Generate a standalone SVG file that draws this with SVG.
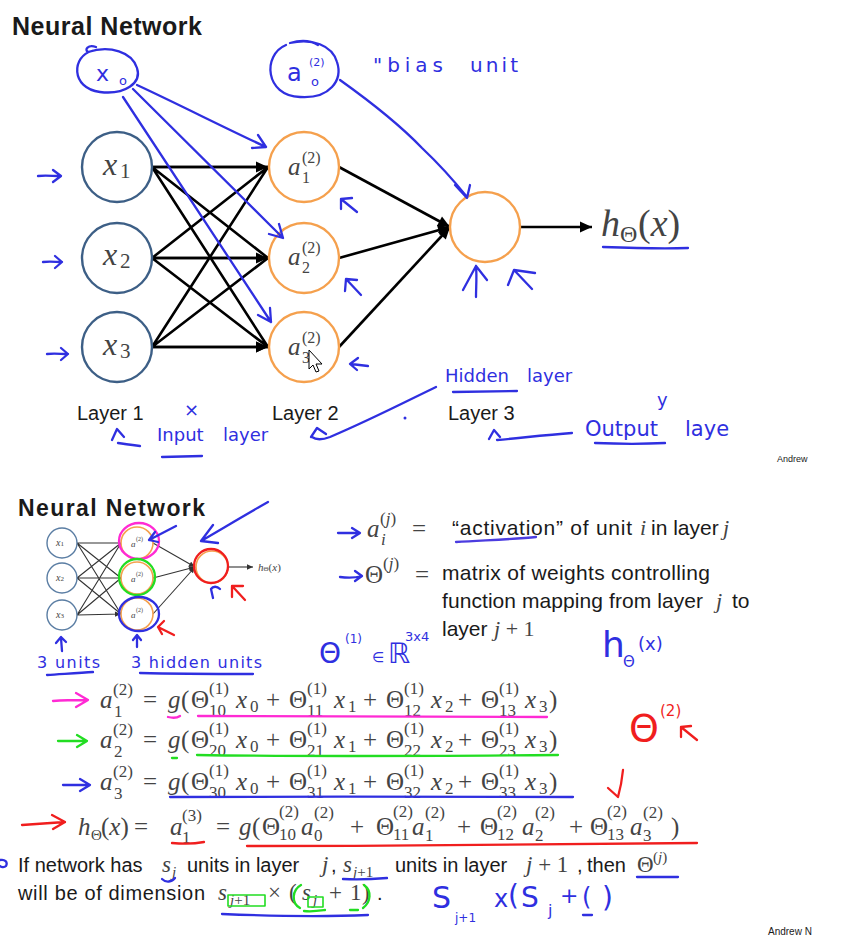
<svg xmlns="http://www.w3.org/2000/svg" width="852" height="943" viewBox="0 0 852 943">
<style>
.t{font-family:"Liberation Sans",Arial,sans-serif;fill:#1a1a1a}
.m{font-family:"Liberation Serif","Times New Roman",serif;fill:#444}
.i{font-style:italic}
.e{font-size:25px}
.s{font-size:17px}
.hw{font-family:"DejaVu Sans",sans-serif;fill:#2f2fe0}
.pen{fill:none;stroke-linecap:round;stroke-linejoin:round;stroke-width:2.3}
.b{stroke:#2f2fe0}.r{stroke:#f01e1e}.g{stroke:#22dd22}.p{stroke:#ff2ad4}
.blk{stroke:#000;stroke-width:2.6;fill:none}
.sm{stroke:#333;stroke-width:1.1;fill:none}
.in{fill:#fff;stroke:#3d5f86;stroke-width:2.4}
.hid{fill:#fff;stroke:#f5a04d;stroke-width:2.4}
</style>
<defs>
<marker id="ah" viewBox="0 0 10 10" refX="10" refY="5" markerWidth="14" markerHeight="12" markerUnits="userSpaceOnUse" orient="auto"><path d="M0,0.5 L10,5 L0,9.5 z" fill="#000"/></marker>
<marker id="as" viewBox="0 0 10 10" refX="10" refY="5" markerWidth="7" markerHeight="6" markerUnits="userSpaceOnUse" orient="auto"><path d="M0,0.5 L10,5 L0,9.5 z" fill="#333"/></marker>
</defs>
<rect width="852" height="943" fill="#fff"/>

<!-- ===== TOP SLIDE ===== -->
<text class="t" x="12" y="35" font-size="25" font-weight="bold" textLength="190">Neural Network</text>

<g id="connectors">
<path class="blk" marker-end="url(#ah)" d="M152 167 L268 167 M152 167 L268 258 M152 167 L268 347 M152 258 L268 167 M152 258 L268 258 M152 258 L268 347 M152 347 L268 167 M152 347 L268 258 M152 347 L268 347"/>
<path class="blk" marker-end="url(#ah)" d="M339 167 L450 227"/>
<path class="blk" marker-end="url(#ah)" d="M339 258 L450 227"/>
<path class="blk" marker-end="url(#ah)" d="M339 347 L450 227"/>
<path class="blk" marker-end="url(#ah)" d="M520 227 L592 227"/>
<path class="blk" marker-end="url(#ah)" d="M152 167 L268 167"/>
<path class="blk" marker-end="url(#ah)" d="M152 258 L268 258"/>
<path class="blk" marker-end="url(#ah)" d="M152 347 L268 347"/>
</g>

<g id="x1"><circle class="in" cx="117" cy="167" r="35"/><text class="m i" x="103" y="175" font-size="32">x</text><text class="m" x="120" y="178" font-size="21">1</text></g>
<g id="x2"><circle class="in" cx="117" cy="258" r="35"/><text class="m i" x="103" y="265" font-size="32">x</text><text class="m" x="120" y="268" font-size="21">2</text></g>
<g id="x3"><circle class="in" cx="117" cy="347" r="35"/><text class="m i" x="103" y="355" font-size="32">x</text><text class="m" x="120" y="358" font-size="21">3</text></g>
<g id="a1"><circle class="hid" cx="304" cy="167" r="35"/><text class="m i" x="288" y="175" font-size="25">a</text><text class="m" x="302" y="163" font-size="16">(2)</text><text class="m" x="302" y="183" font-size="16">1</text></g>
<g id="a2"><circle class="hid" cx="304" cy="258" r="35"/><text class="m i" x="288" y="265" font-size="25">a</text><text class="m" x="302" y="253" font-size="16">(2)</text><text class="m" x="302" y="273" font-size="16">2</text></g>
<g id="a3"><circle class="hid" cx="304" cy="347" r="35"/><text class="m i" x="288" y="355" font-size="25">a</text><text class="m" x="302" y="343" font-size="16">(2)</text><text class="m" x="302" y="363" font-size="16">3</text></g>
<g id="out"><circle class="hid" cx="485" cy="227" r="35"/></g>
<g id="hx"><text class="m i" x="601" y="236" font-size="38">h</text><text class="m" x="620" y="242" font-size="24">Θ</text><text class="m" x="638" y="236" font-size="38">(<tspan font-style="italic">x</tspan>)</text></g>

<g id="layers">
<text class="t" x="77" y="420" font-size="20" fill="#2a2a2a">Layer 1</text>
<text class="t" x="272" y="420" font-size="20" fill="#2a2a2a">Layer 2</text>
<text class="t" x="448" y="420" font-size="20" fill="#2a2a2a">Layer 3</text>
</g>

<!-- cursor -->
<path d="M309 350 L309 369 L313 365 L316 372 L319 371 L316 364 L322 364 Z" fill="#fff" stroke="#000" stroke-width="1"/>

<!-- top handwriting -->
<g id="bias-x0">
<path class="pen b" d="M92 51 C 72 56 70 88 100 92 C 125 95 142 83 137 68 C 132 52 110 45 88 52 C 84 50 88 44 96 47"/>
<text class="hw" x="96" y="81" font-size="22">x</text><text class="hw" x="119" y="85" font-size="13">o</text>
</g>
<g id="bias-a0">
<path class="pen b" d="M286 45 C 262 55 265 96 300 97 C 330 99 343 80 337 62 C 332 45 312 38 290 43 C 300 40 310 40 318 45"/>
<text class="hw" x="287" y="81" font-size="24">a</text><text class="hw" x="309" y="66" font-size="11">(2)</text><text class="hw" x="311" y="86" font-size="13">o</text>
</g>
<text class="hw" x="373" y="72" font-size="20" textLength="70">"bias</text>
<text class="hw" x="470" y="72" font-size="20" textLength="48">unit</text>

<g class="pen b">
<path d="M137 85 C 180 105 225 128 266 147 M258 135 L266 147 L252 148"/>
<path d="M133 89 L283 238 M269 234 L283 238 L279 224"/>
<path d="M123 97 L271 322 M258 315 L271 322 L270 308"/>
<path d="M340 80 C 375 105 400 125 422 148 C 440 165 455 182 467 197 M455 185 L467 198 L470 185"/>
<path d="M38 176 C 45 175 53 176 60 176 M53 170 L61 176 L53 182"/>
<path d="M43 262 C 50 261 56 262 62 262 M55 256 L62 262 L55 268"/>
<path d="M47 354 C 54 353 61 354 68 354 M61 348 L68 354 L61 360"/>
<path d="M357 212 L341 199 M341 209 L341 199 L352 198"/>
<path d="M361 295 L346 279 M345 291 L346 279 L357 280"/>
<path d="M368 366 L351 364 M358 358 L350 364 L357 370"/>
<path d="M476 297 C 476 287 477 277 476 266 M463 290 L476 266 L487 280"/>
<path d="M532 289 L514 270 M508 285 L514 270 L535 273"/>
<path d="M603 247 C 630 248 660 249 688 248"/>
<path d="M140 446 C 132 445 124 444 118 443 M112 440 L117 429 L124 437"/>
<path d="M162 457 L202 456"/>
<path d="M436 387 C 405 402 370 420 330 437 C 322 440 316 440 312 437 M311 437 L317 428 L326 434"/>
<path d="M453 392 L517 391"/>
<path d="M572 433 C 545 435 520 438 497 440 M489 439 L494 430 L500 437"/>
<path d="M595 443 C 620 444 645 444 665 443"/>
</g>
<circle cx="405" cy="418" r="1.5" fill="#2f2fe0"/>
<text class="hw" x="184" y="416" font-size="18">×</text>
<text class="hw" x="157" y="441" font-size="18">Input</text>
<text class="hw" x="223" y="441" font-size="18">layer</text>
<text class="hw" x="445" y="382" font-size="18">Hidden</text>
<text class="hw" x="527" y="382" font-size="18">layer</text>
<text class="hw" x="585" y="436" font-size="21">Output</text>
<text class="hw" x="685" y="436" font-size="21">laye</text>
<text class="hw" x="657" y="406" font-size="18">y</text>
<text class="t" x="777" y="462" font-size="9" fill="#555">Andrew</text>

<!-- ===== BOTTOM SLIDE ===== -->
<text class="t" x="18" y="516" font-size="23" font-weight="bold" textLength="187">Neural Network</text>

<g id="small-connectors">
<path class="sm" marker-end="url(#as)" d="M77 543 L121 543 M77 543 L121 578 M77 543 L121 614 M77 578 L121 543 M77 578 L121 578 M77 578 L121 614 M77 615 L121 543 M77 615 L121 578 M77 615 L121 614"/>
<path class="sm" marker-end="url(#as)" d="M153 543 L195 567"/>
<path class="sm" marker-end="url(#as)" d="M153 578 L195 567"/>
<path class="sm" marker-end="url(#as)" d="M153 614 L195 567"/>
<path class="sm" marker-end="url(#as)" d="M228 567 L253 567"/>
</g>
<g id="sx1"><circle cx="62" cy="543" r="15" fill="#fff" stroke="#5a7da3" stroke-width="1.4"/><text class="m i" x="56" y="546" font-size="10" fill="#888">x<tspan font-size="7" font-style="normal">1</tspan></text></g>
<g id="sx2"><circle cx="62" cy="578" r="15" fill="#fff" stroke="#5a7da3" stroke-width="1.4"/><text class="m i" x="56" y="581" font-size="10" fill="#888">x<tspan font-size="7" font-style="normal">2</tspan></text></g>
<g id="sx3"><circle cx="62" cy="615" r="15" fill="#fff" stroke="#5a7da3" stroke-width="1.4"/><text class="m i" x="56" y="618" font-size="10" fill="#888">x<tspan font-size="7" font-style="normal">3</tspan></text></g>
<g id="sa1"><circle cx="137" cy="543" r="16" fill="#fff" stroke="#f5a04d" stroke-width="1.6"/><text class="m i" x="131" y="547" font-size="9" fill="#888">a</text><text class="m" x="136" y="541" font-size="6" fill="#888">(2)</text><ellipse class="pen p" cx="139" cy="541" rx="20" ry="18" stroke-width="2.6"/></g>
<g id="sa2"><circle cx="137" cy="578" r="16" fill="#fff" stroke="#f5a04d" stroke-width="1.6"/><text class="m i" x="131" y="582" font-size="9" fill="#888">a</text><text class="m" x="136" y="576" font-size="6" fill="#888">(2)</text><ellipse class="pen g" cx="137" cy="577" rx="18" ry="18" stroke-width="2.6"/></g>
<g id="sa3"><circle cx="137" cy="614" r="16" fill="#fff" stroke="#f5a04d" stroke-width="1.6"/><text class="m i" x="131" y="618" font-size="9" fill="#888">a</text><text class="m" x="136" y="612" font-size="6" fill="#888">(2)</text><ellipse class="pen b" cx="139" cy="614" rx="20" ry="17" stroke-width="2.6"/></g>
<g id="sout"><circle cx="212" cy="567" r="16" fill="#fff" stroke="#f5a04d" stroke-width="1.6"/><circle class="pen r" cx="211" cy="566" r="17" stroke-width="2.8"/></g>
<text class="m" x="258" y="571" font-size="11" fill="#777"><tspan font-style="italic">h</tspan><tspan font-size="7">Θ</tspan>(<tspan font-style="italic">x</tspan>)</text>

<g class="pen">
<path class="b" d="M268 502 C 245 515 220 530 201 541 M213 525 L201 541 L218 543"/>
<path class="b" d="M176 526 L149 540 M155 532 L149 540 L158 542"/>
<path class="b" d="M213 598 L211 589 C 213 586 217 586 220 589"/>
<path class="r" d="M245 600 L233 587 M232 597 L232 586 L243 586"/>
<path class="r" d="M174 635 L158 627 M164 621 L158 627 L162 634"/>
<path class="b" d="M62 651 L61 638 M56 643 L61 637 L66 642"/>
<path class="b" d="M137 647 L137 636 M133 640 L137 635 L141 640"/>
<path class="b" d="M47 675 C 62 674 80 673 93 672"/>
<path class="b" d="M140 673 C 180 674 220 674 253 674"/>
</g>
<text class="hw" x="37" y="668" font-size="16" textLength="63">3 units</text>
<text class="hw" x="131" y="668" font-size="16" textLength="131">3 hidden units</text>

<!-- definitions -->
<g class="pen b">
<path d="M338 533 L359 533 M352 528 L360 533 L352 538"/>
<path d="M340 577 C 348 578 355 578 362 576 M355 571 L362 576 L355 581"/>
<path d="M456 542 C 490 540 518 539 536 537" stroke="#4b3ce0"/>
</g>
<text class="m i e" x="367" y="537">a</text><text class="m s" x="380" y="524">(<tspan font-style="italic">j</tspan>)</text><text class="m i s" x="381" y="545">i</text>
<text class="m e" x="412" y="537">=</text>
<text class="t" x="452" y="535" font-size="21" textLength="180">“activation” of unit</text>
<text class="m i" x="640" y="535" font-size="22">i</text>
<text class="t" x="651" y="535" font-size="21">in layer</text>
<text class="m i" x="723" y="535" font-size="22">j</text>
<text class="m e" x="365" y="583">Θ</text><text class="m s" x="383" y="569">(<tspan font-style="italic">j</tspan>)</text>
<text class="m e" x="415" y="583">=</text>
<text class="t" x="442" y="580" font-size="21" textLength="268">matrix of weights controlling</text>
<text class="t" x="442" y="608" font-size="21" textLength="261">function mapping from layer</text>
<text class="m i" x="716" y="608" font-size="22">j</text>
<text class="t" x="732" y="608" font-size="21">to</text>
<text class="t" x="442" y="636" font-size="21">layer</text>
<text class="m" x="494" y="636" font-size="22"><tspan font-style="italic">j</tspan> + 1</text>

<text class="hw" x="319" y="663" font-size="28">Θ</text>
<text class="hw" x="345" y="643" font-size="12">(1)</text>
<text class="hw" x="372" y="662" font-size="14">∈</text>
<text class="hw" x="388" y="663" font-size="28">ℝ</text>
<text class="hw" x="405" y="641" font-size="13">3x4</text>
<text class="hw" x="602" y="657" font-size="36">h</text>
<text class="hw" x="623" y="667" font-size="15">Θ</text>
<text class="hw" x="638" y="650" font-size="18">(x)</text>

<!-- equations -->
<g id="eq1">
<text class="m i e" x="100" y="708">a</text><text class="m s" x="113" y="695">(2)</text><text class="m s" x="114" y="717">1</text>
<text class="m e" x="143" y="708">=</text><text class="m i e" x="168" y="708">g</text><text class="m e" x="181" y="708">(</text>
<text class="m e" x="191" y="708">Θ</text><text class="m s" x="209" y="694">(1)</text><text class="m s" x="209" y="716">10</text><text class="m i e" x="236" y="708">x</text><text class="m s" x="250" y="712">0</text><text class="m e" x="266" y="708">+</text>
<text class="m e" x="289" y="708">Θ</text><text class="m s" x="307" y="694">(1)</text><text class="m s" x="307" y="716">11</text><text class="m i e" x="334" y="708">x</text><text class="m s" x="348" y="712">1</text><text class="m e" x="363" y="708">+</text>
<text class="m e" x="386" y="708">Θ</text><text class="m s" x="404" y="694">(1)</text><text class="m s" x="404" y="716">12</text><text class="m i e" x="431" y="708">x</text><text class="m s" x="445" y="712">2</text><text class="m e" x="458" y="708">+</text>
<text class="m e" x="481" y="708">Θ</text><text class="m s" x="499" y="694">(1)</text><text class="m s" x="499" y="716">13</text><text class="m i e" x="525" y="708">x</text><text class="m s" x="539" y="712">3</text><text class="m e" x="549" y="708">)</text>
</g>
<g id="eq2">
<text class="m i e" x="100" y="748">a</text><text class="m s" x="113" y="735">(2)</text><text class="m s" x="114" y="757">2</text>
<text class="m e" x="143" y="748">=</text><text class="m i e" x="168" y="748">g</text><text class="m e" x="181" y="748">(</text>
<text class="m e" x="191" y="748">Θ</text><text class="m s" x="209" y="734">(1)</text><text class="m s" x="209" y="756">20</text><text class="m i e" x="236" y="748">x</text><text class="m s" x="250" y="752">0</text><text class="m e" x="266" y="748">+</text>
<text class="m e" x="289" y="748">Θ</text><text class="m s" x="307" y="734">(1)</text><text class="m s" x="307" y="756">21</text><text class="m i e" x="334" y="748">x</text><text class="m s" x="348" y="752">1</text><text class="m e" x="363" y="748">+</text>
<text class="m e" x="386" y="748">Θ</text><text class="m s" x="404" y="734">(1)</text><text class="m s" x="404" y="756">22</text><text class="m i e" x="431" y="748">x</text><text class="m s" x="445" y="752">2</text><text class="m e" x="458" y="748">+</text>
<text class="m e" x="481" y="748">Θ</text><text class="m s" x="499" y="734">(1)</text><text class="m s" x="499" y="756">23</text><text class="m i e" x="525" y="748">x</text><text class="m s" x="539" y="752">3</text><text class="m e" x="549" y="748">)</text>
</g>
<g id="eq3">
<text class="m i e" x="100" y="790">a</text><text class="m s" x="113" y="777">(2)</text><text class="m s" x="114" y="799">3</text>
<text class="m e" x="143" y="790">=</text><text class="m i e" x="168" y="790">g</text><text class="m e" x="181" y="790">(</text>
<text class="m e" x="191" y="790">Θ</text><text class="m s" x="209" y="776">(1)</text><text class="m s" x="209" y="798">30</text><text class="m i e" x="236" y="790">x</text><text class="m s" x="250" y="794">0</text><text class="m e" x="266" y="790">+</text>
<text class="m e" x="289" y="790">Θ</text><text class="m s" x="307" y="776">(1)</text><text class="m s" x="307" y="798">31</text><text class="m i e" x="334" y="790">x</text><text class="m s" x="348" y="794">1</text><text class="m e" x="363" y="790">+</text>
<text class="m e" x="386" y="790">Θ</text><text class="m s" x="404" y="776">(1)</text><text class="m s" x="404" y="798">32</text><text class="m i e" x="431" y="790">x</text><text class="m s" x="445" y="794">2</text><text class="m e" x="458" y="790">+</text>
<text class="m e" x="481" y="790">Θ</text><text class="m s" x="499" y="776">(1)</text><text class="m s" x="499" y="798">33</text><text class="m i e" x="525" y="790">x</text><text class="m s" x="539" y="794">3</text><text class="m e" x="549" y="790">)</text>
</g>
<g id="eq4">
<text class="m i e" x="78" y="835">h</text><text class="m" x="91" y="840" font-size="15">Θ</text><text class="m e" x="101" y="835">(<tspan font-style="italic">x</tspan>)</text>
<text class="m e" x="134" y="835">=</text>
<text class="m i e" x="170" y="835">a</text><text class="m s" x="182" y="821">(3)</text><text class="m s" x="182" y="843">1</text>
<text class="m e" x="216" y="835">=</text><text class="m i e" x="239" y="835">g</text><text class="m e" x="252" y="835">(</text>
<text class="m e" x="262" y="835">Θ</text><text class="m s" x="279" y="817">(2)</text><text class="m s" x="279" y="840">10</text><text class="m i e" x="301" y="835">a</text><text class="m s" x="314" y="818">(2)</text><text class="m s" x="314" y="841">0</text><text class="m e" x="350" y="835">+</text>
<text class="m e" x="376" y="835">Θ</text><text class="m s" x="393" y="817">(2)</text><text class="m s" x="393" y="840">11</text><text class="m i e" x="412" y="835">a</text><text class="m s" x="425" y="818">(2)</text><text class="m s" x="425" y="841">1</text><text class="m e" x="457" y="835">+</text>
<text class="m e" x="480" y="835">Θ</text><text class="m s" x="497" y="817">(2)</text><text class="m s" x="497" y="840">12</text><text class="m i e" x="522" y="835">a</text><text class="m s" x="535" y="818">(2)</text><text class="m s" x="535" y="841">2</text><text class="m e" x="569" y="835">+</text>
<text class="m e" x="590" y="835">Θ</text><text class="m s" x="607" y="817">(2)</text><text class="m s" x="607" y="840">13</text><text class="m i e" x="630" y="835">a</text><text class="m s" x="643" y="818">(2)</text><text class="m s" x="643" y="841">3</text><text class="m e" x="671" y="835">)</text>
</g>

<g class="pen">
<path class="p" d="M53 701 C 65 700 78 700 88 700 M76 693 L88 700 L76 707"/>
<path class="p" d="M168 717 C 172 718 177 718 180 716"/>
<path class="p" d="M198 716 C 320 717 440 717 547 717"/>
<path class="g" d="M58 741 L87 741 M77 735 L87 741 L77 747"/>
<path class="g" d="M172 758 L177 758"/>
<path class="g" d="M197 755 C 320 757 440 756 558 755"/>
<path class="b" d="M63 785 L90 785 M80 779 L90 785 L80 791"/>
<path class="b" d="M170 797 C 300 796 450 797 573 797"/>
<path class="r" d="M22 825 L65 822 M52 815 L65 822 L53 829"/>
<path class="r" d="M172 843 C 182 844 194 844 204 842"/>
<path class="r" d="M247 846 C 400 846 560 845 697 843"/>
<path class="r" d="M697 740 L681 727 M681 737 L681 727 L691 726"/>
<path class="r" d="M623 770 C 622 780 620 790 618 797 M608 788 L618 797"/>
</g>
<text x="629" y="741" font-size="38" fill="#f01e1e" font-family="DejaVu Sans,sans-serif">Θ</text>
<text x="660" y="716" font-size="15" fill="#f01e1e" font-family="DejaVu Sans,sans-serif">(2)</text>

<!-- dimension statement -->
<text class="t" x="18" y="872" font-size="20">If network has</text>
<text class="m i" x="162" y="872" font-size="23">s</text><text class="m i" x="172" y="877" font-size="15">j</text>
<text class="t" x="187" y="872" font-size="20">units in layer</text>
<text class="m i" x="322" y="872" font-size="23">j</text><text class="t" x="331" y="872" font-size="20">,</text>
<text class="m i" x="343" y="872" font-size="23">s</text><text class="m" x="353" y="877" font-size="15"><tspan font-style="italic">j</tspan>+1</text>
<text class="t" x="395" y="872" font-size="20">units in layer</text>
<text class="m" x="526" y="872" font-size="23"><tspan font-style="italic">j</tspan> + 1</text><text class="t" x="577" y="872" font-size="20">,</text>
<text class="t" x="587" y="872" font-size="20">then</text>
<text class="m" x="637" y="872" font-size="23">Θ</text><text class="m" x="653" y="862" font-size="15">(<tspan font-style="italic">j</tspan>)</text>
<text class="t" x="18" y="900" font-size="20" textLength="187">will be of dimension</text>
<text class="m i" x="218" y="900" font-size="23">s</text><text class="m" x="230" y="905" font-size="15"><tspan font-style="italic">j</tspan>+1</text>
<text class="m" x="268" y="900" font-size="23">×</text>
<text class="m" x="289" y="900" font-size="23">(</text><text class="m i" x="302" y="900" font-size="23">s</text><text class="m i" x="313" y="905" font-size="15">j</text>
<text class="m" x="329" y="900" font-size="23">+</text><text class="m" x="350" y="900" font-size="23">1</text><text class="m" x="362" y="900" font-size="23">)</text>
<text class="t" x="377" y="900" font-size="20">.</text>

<g class="pen">
<path class="b" d="M0 860 C 5 859 8 862 6 866 C 4 868 1 867 0 866"/>
<path class="b" d="M162 879 C 166 883 172 882 175 878"/>
<path class="b" d="M343 879 C 360 880 375 879 387 878"/>
<path class="b" d="M637 877 L678 877"/>
<path class="b" d="M222 914 C 270 916 320 917 368 915"/>
<rect class="g" x="228" y="895" width="37" height="11" stroke-width="1.6"/>
<rect class="g" x="308" y="897" width="15" height="10" stroke-width="1.6"/>
<path class="g" d="M301 885 C 292 890 291 903 300 908"/>
<path class="g" d="M364 885 C 372 891 371 902 363 908"/>
<path class="g" d="M304 911 C 312 912 318 911 325 910"/>
<path class="g" d="M350 910 L358 910"/>
<path class="b" d="M583 915 L592 915"/>
</g>
<text class="hw" x="432" y="908" font-size="30">S</text>
<text class="hw" x="455" y="922" font-size="12">j+1</text>
<text class="hw" x="494" y="907" font-size="24">x</text>
<text class="hw" x="508" y="905" font-size="28">(</text>
<text class="hw" x="521" y="907" font-size="28">S</text>
<text class="hw" x="548" y="916" font-size="16">j</text>
<text class="hw" x="560" y="903" font-size="22">+</text>
<text class="hw" x="582" y="905" font-size="24">(</text>
<text class="hw" x="602" y="907" font-size="28">)</text>
<text class="t" x="768" y="935" font-size="10" fill="#333">Andrew N</text>
</svg>
